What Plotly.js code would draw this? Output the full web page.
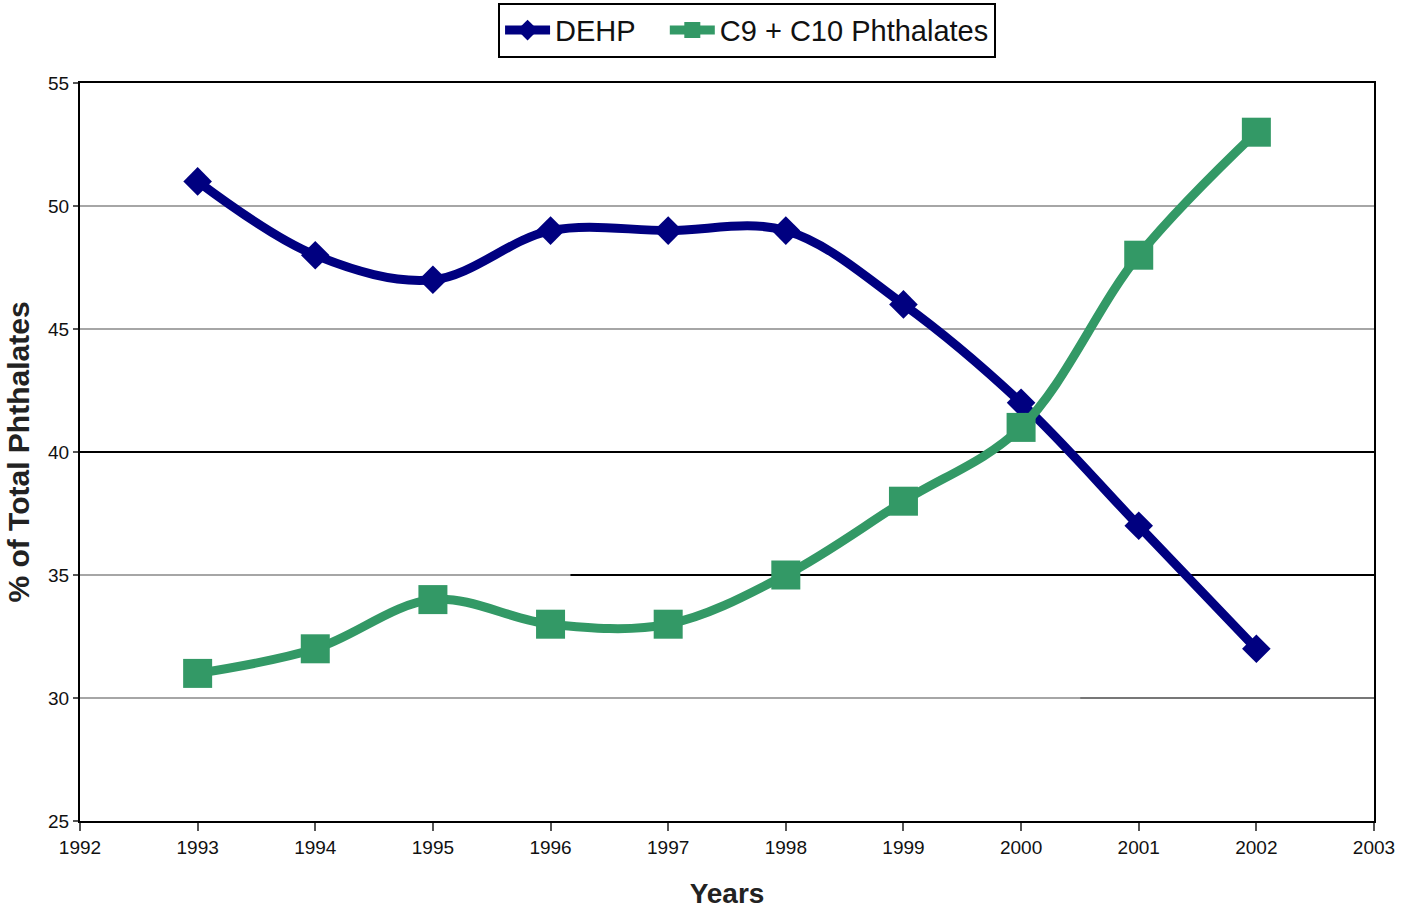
<!DOCTYPE html>
<html>
<head>
<meta charset="utf-8">
<script src="https://cdn.plot.ly/plotly-3.0.1.min.js"></script>
<style>html,body{margin:0;padding:0;background:#fff;}#chart{width:1405px;height:909px;}</style>
</head>
<body>
<div id="chart"></div>
<script>
var years = [1993, 1994, 1995, 1996, 1997, 1998, 1999, 2000, 2001, 2002];
var dehp = [51, 48, 47, 49, 49, 49, 46, 42, 37, 32];
var c9c10 = [31, 32, 34, 33, 33, 35, 38, 41, 48, 53];
var xTicks = [1992, 1993, 1994, 1995, 1996, 1997, 1998, 1999, 2000, 2001, 2002, 2003];
var yTicks = [25, 30, 35, 40, 45, 50, 55];
var gridVals = [30, 35, 40, 45, 50];

var font = "Liberation Sans, Arial, sans-serif";
var nb = "\u00a0";

var traces = [
  {
    x: years, y: dehp, name: "DEHP" + nb + nb + nb, type: "scatter", mode: "lines+markers",
    line: {color: "#000080", width: 9, shape: "spline", smoothing: 1},
    marker: {symbol: "diamond", size: 22, color: "#000080"}
  },
  {
    x: years, y: c9c10, name: "C9 + C10 Phthalates", type: "scatter", mode: "lines+markers",
    line: {color: "#339966", width: 9, shape: "spline", smoothing: 1},
    marker: {symbol: "square", size: 29, color: "#339966"}
  }
];

// grid lines drawn as shapes (gray), with darker segments as in the original scan
var shapes = gridVals.map(function (v) {
  return {type: "line", xref: "paper", yref: "y", x0: 0, x1: 1, y0: v, y1: v,
          line: {color: "#a6a6a6", width: 2}, layer: "below"};
});
shapes.push({type: "line", xref: "paper", yref: "y", x0: 0, x1: 1, y0: 40, y1: 40, line: {color: "#000", width: 2}, layer: "below"});
shapes.push({type: "line", xref: "paper", yref: "y", x0: 0.379, x1: 1, y0: 35, y1: 35, line: {color: "#000", width: 2}, layer: "below"});
shapes.push({type: "line", xref: "paper", yref: "y", x0: 0.773, x1: 1, y0: 30, y1: 30, line: {color: "#777", width: 2}, layer: "below"});

var layout = {
  width: 1405, height: 909,
  margin: {l: 80, r: 31, t: 83, b: 88, autoexpand: false},
  paper_bgcolor: "#fff", plot_bgcolor: "#fff",
  font: {family: font, color: "#111"},
  showlegend: true,
  legend: {
    orientation: "h", x: 0.5155, xanchor: "center", xref: "paper",
    y: 0.997, yanchor: "top", yref: "container",
    bordercolor: "#000", borderwidth: 2, bgcolor: "#fff",
    font: {family: font, size: 29, color: "#111"},
    itemwidth: 45, tracegroupgap: 0
  },
  xaxis: {
    range: [1992, 2003], tickmode: "array", tickvals: xTicks, ticktext: xTicks.map(String),
    showgrid: false, zeroline: false,
    showline: true, linecolor: "#000", linewidth: 2, mirror: true,
    ticks: "outside", ticklen: 8, tickwidth: 2, tickcolor: "#555",
    tickfont: {family: font, size: 19, color: "#111"},
    title: {text: "<b>Years</b>", font: {family: font, size: 28, color: "#222"}, standoff: 30}
  },
  yaxis: {
    range: [25, 55], tickmode: "array", tickvals: yTicks, ticktext: yTicks.map(String),
    showgrid: false, zeroline: false,
    showline: true, linecolor: "#000", linewidth: 2, mirror: true,
    ticks: "outside", ticklen: 5, tickwidth: 2, tickcolor: "#555",
    tickfont: {family: font, size: 19, color: "#111"},
    title: {text: "<b>% of Total Phthalates</b>", font: {family: font, size: 30, color: "#222"}, standoff: 10}
  },
  shapes: shapes
};

Plotly.newPlot("chart", traces, layout, {displayModeBar: false, staticPlot: true});
</script>
</body>
</html>
